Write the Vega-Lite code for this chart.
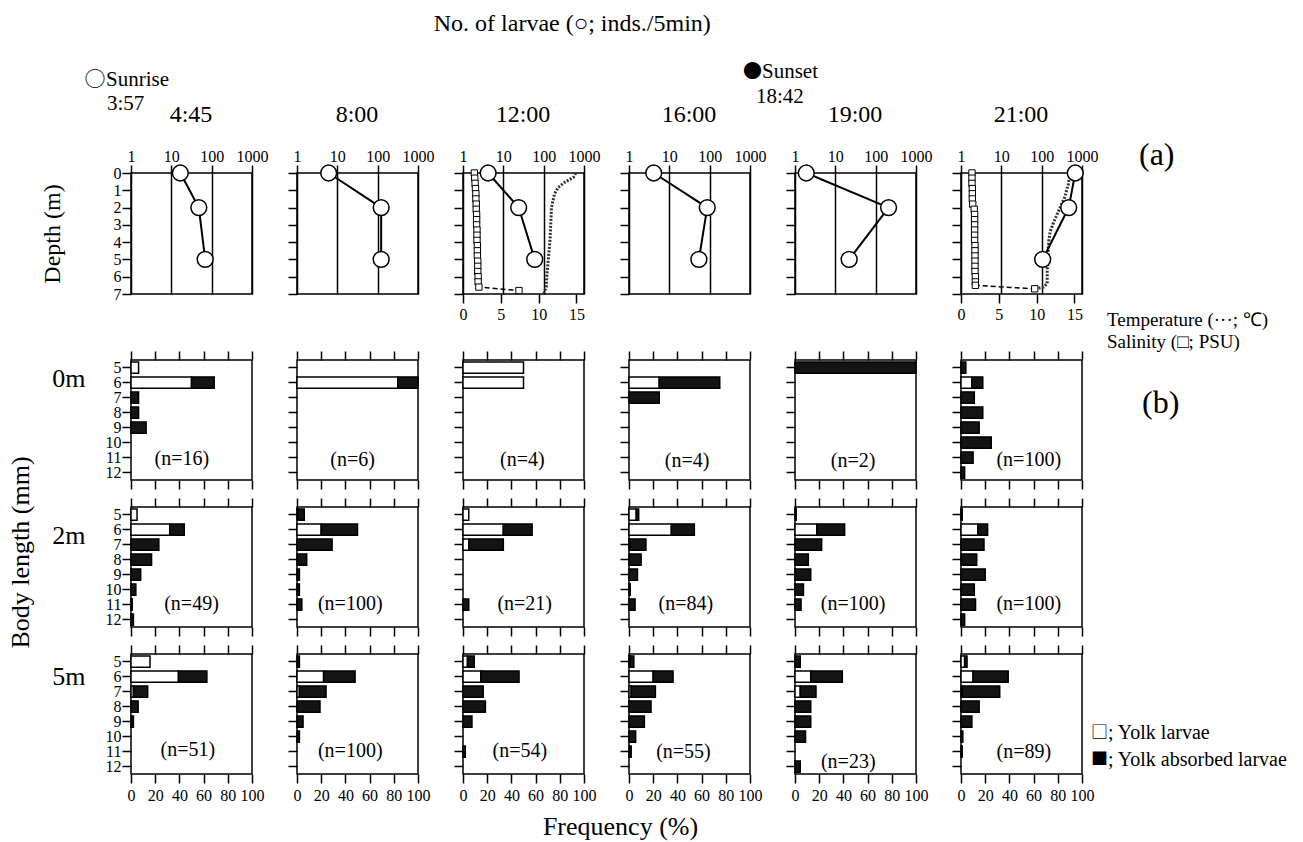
{
"$schema":"https://vega.github.io/schema/vega-lite/v6.json",
"padding":{"left":6,"top":12,"right":5,"bottom":5},
"datasets":{
"larvae":[
{"time":"4:45","depth":0,"n":16.7},{"time":"4:45","depth":2,"n":48},{"time":"4:45","depth":5,"n":69},
{"time":"8:00","depth":0,"n":6.1},{"time":"8:00","depth":2,"n":122},{"time":"8:00","depth":5,"n":122},
{"time":"12:00","depth":0,"n":4.2},{"time":"12:00","depth":2,"n":24},{"time":"12:00","depth":5,"n":60},
{"time":"16:00","depth":0,"n":4.1},{"time":"16:00","depth":2,"n":87},{"time":"16:00","depth":5,"n":54},
{"time":"19:00","depth":0,"n":1.9},{"time":"19:00","depth":2,"n":209},{"time":"19:00","depth":5,"n":22},
{"time":"21:00","depth":0,"n":680},{"time":"21:00","depth":2,"n":468},{"time":"21:00","depth":5,"n":106}
],
"temp":[
{"time":"12:00","depth":0,"t":14.9},{"time":"12:00","depth":0.25,"t":14.6},{"time":"12:00","depth":0.55,"t":13.4},{"time":"12:00","depth":0.83,"t":12.6},{"time":"12:00","depth":1.2,"t":12.1},{"time":"12:00","depth":1.6,"t":11.9},{"time":"12:00","depth":2,"t":11.7},{"time":"12:00","depth":3,"t":11.6},{"time":"12:00","depth":3.9,"t":11.5},{"time":"12:00","depth":4.9,"t":11.3},{"time":"12:00","depth":5.9,"t":11.1},{"time":"12:00","depth":6.6,"t":11.0},{"time":"12:00","depth":6.95,"t":10.7},
{"time":"21:00","depth":0,"t":14.4},{"time":"21:00","depth":0.64,"t":14.2},{"time":"21:00","depth":1.42,"t":13.7},{"time":"21:00","depth":2.2,"t":12.9},{"time":"21:00","depth":2.8,"t":12.3},{"time":"21:00","depth":3.37,"t":11.8},{"time":"21:00","depth":3.95,"t":11.6},{"time":"21:00","depth":4.7,"t":11.5},{"time":"21:00","depth":5.7,"t":11.4},{"time":"21:00","depth":6.4,"t":11.4},{"time":"21:00","depth":6.6,"t":10.9},{"time":"21:00","depth":6.7,"t":9.8}
],
"sal":[
{"time":"12:00","depth":0,"s":1.5},{"time":"12:00","depth":0.3,"s":1.55},{"time":"12:00","depth":0.6,"s":1.6},{"time":"12:00","depth":0.9,"s":1.65},{"time":"12:00","depth":1.2,"s":1.7},{"time":"12:00","depth":1.5,"s":1.7},{"time":"12:00","depth":1.8,"s":1.75},{"time":"12:00","depth":2.1,"s":1.75},{"time":"12:00","depth":2.4,"s":1.8},{"time":"12:00","depth":2.7,"s":1.8},{"time":"12:00","depth":3.0,"s":1.8},{"time":"12:00","depth":3.3,"s":1.85},{"time":"12:00","depth":3.6,"s":1.85},{"time":"12:00","depth":3.9,"s":1.85},{"time":"12:00","depth":4.2,"s":1.9},{"time":"12:00","depth":4.5,"s":1.9},{"time":"12:00","depth":4.8,"s":1.9},{"time":"12:00","depth":5.1,"s":1.95},{"time":"12:00","depth":5.4,"s":1.95},{"time":"12:00","depth":5.7,"s":1.95},{"time":"12:00","depth":6.0,"s":2.0},{"time":"12:00","depth":6.3,"s":2.0},{"time":"12:00","depth":6.6,"s":2.1},{"time":"12:00","depth":6.8,"s":7.4},
{"time":"21:00","depth":0,"s":1.45},{"time":"21:00","depth":0.3,"s":1.45},{"time":"21:00","depth":0.6,"s":1.45},{"time":"21:00","depth":0.9,"s":1.5},{"time":"21:00","depth":1.2,"s":1.5},{"time":"21:00","depth":1.5,"s":1.5},{"time":"21:00","depth":1.8,"s":1.55},{"time":"21:00","depth":2.1,"s":1.75},{"time":"21:00","depth":2.4,"s":1.8},{"time":"21:00","depth":2.7,"s":1.8},{"time":"21:00","depth":3.0,"s":1.8},{"time":"21:00","depth":3.3,"s":1.8},{"time":"21:00","depth":3.6,"s":1.8},{"time":"21:00","depth":3.9,"s":1.8},{"time":"21:00","depth":4.2,"s":1.85},{"time":"21:00","depth":4.5,"s":1.85},{"time":"21:00","depth":4.8,"s":1.85},{"time":"21:00","depth":5.1,"s":1.85},{"time":"21:00","depth":5.4,"s":1.85},{"time":"21:00","depth":5.7,"s":1.85},{"time":"21:00","depth":6.0,"s":1.9},{"time":"21:00","depth":6.3,"s":1.9},{"time":"21:00","depth":6.5,"s":1.9},{"time":"21:00","depth":6.7,"s":9.75}
],
"ns":[
{"time":"4:45","depth":"0m","label":"(n=16)"},{"time":"8:00","depth":"0m","label":"(n=6)"},{"time":"12:00","depth":"0m","label":"(n=4)"},{"time":"16:00","depth":"0m","label":"(n=4)"},{"time":"19:00","depth":"0m","label":"(n=2)"},{"time":"21:00","depth":"0m","label":"(n=100)"},
{"time":"4:45","depth":"2m","label":"(n=49)"},{"time":"8:00","depth":"2m","label":"(n=100)"},{"time":"12:00","depth":"2m","label":"(n=21)"},{"time":"16:00","depth":"2m","label":"(n=84)"},{"time":"19:00","depth":"2m","label":"(n=100)"},{"time":"21:00","depth":"2m","label":"(n=100)"},
{"time":"4:45","depth":"5m","label":"(n=51)"},{"time":"8:00","depth":"5m","label":"(n=100)"},{"time":"12:00","depth":"5m","label":"(n=54)"},{"time":"16:00","depth":"5m","label":"(n=55)"},{"time":"19:00","depth":"5m","label":"(n=23)"},{"time":"21:00","depth":"5m","label":"(n=89)"}
],
"freq":[
{"time":"4:45","depth":"0m","len":5,"type":"Yolk","pct":6.25},{"time":"4:45","depth":"0m","len":6,"type":"Yolk","pct":50},{"time":"4:45","depth":"0m","len":6,"type":"Absorbed","pct":18.75},{"time":"4:45","depth":"0m","len":7,"type":"Absorbed","pct":6.25},{"time":"4:45","depth":"0m","len":8,"type":"Absorbed","pct":6.25},{"time":"4:45","depth":"0m","len":9,"type":"Absorbed","pct":12.5},
{"time":"8:00","depth":"0m","len":6,"type":"Yolk","pct":83.3},{"time":"8:00","depth":"0m","len":6,"type":"Absorbed","pct":16.7},
{"time":"12:00","depth":"0m","len":5,"type":"Yolk","pct":50},{"time":"12:00","depth":"0m","len":6,"type":"Yolk","pct":50},
{"time":"16:00","depth":"0m","len":6,"type":"Yolk","pct":25},{"time":"16:00","depth":"0m","len":6,"type":"Absorbed","pct":50},{"time":"16:00","depth":"0m","len":7,"type":"Absorbed","pct":25},
{"time":"19:00","depth":"0m","len":5,"type":"Absorbed","pct":100},
{"time":"21:00","depth":"0m","len":5,"type":"Absorbed","pct":4},{"time":"21:00","depth":"0m","len":6,"type":"Yolk","pct":9},{"time":"21:00","depth":"0m","len":6,"type":"Absorbed","pct":9},{"time":"21:00","depth":"0m","len":7,"type":"Absorbed","pct":11},{"time":"21:00","depth":"0m","len":8,"type":"Absorbed","pct":18},{"time":"21:00","depth":"0m","len":9,"type":"Absorbed","pct":15},{"time":"21:00","depth":"0m","len":10,"type":"Absorbed","pct":25},{"time":"21:00","depth":"0m","len":11,"type":"Absorbed","pct":10},{"time":"21:00","depth":"0m","len":12,"type":"Absorbed","pct":3},
{"time":"4:45","depth":"2m","len":5,"type":"Yolk","pct":5},{"time":"4:45","depth":"2m","len":6,"type":"Yolk","pct":32},{"time":"4:45","depth":"2m","len":6,"type":"Absorbed","pct":12},{"time":"4:45","depth":"2m","len":7,"type":"Absorbed","pct":23},{"time":"4:45","depth":"2m","len":8,"type":"Absorbed","pct":17},{"time":"4:45","depth":"2m","len":9,"type":"Absorbed","pct":8},{"time":"4:45","depth":"2m","len":10,"type":"Absorbed","pct":4},{"time":"4:45","depth":"2m","len":11,"type":"Absorbed","pct":1},{"time":"4:45","depth":"2m","len":12,"type":"Absorbed","pct":2},
{"time":"8:00","depth":"2m","len":5,"type":"Yolk","pct":1},{"time":"8:00","depth":"2m","len":5,"type":"Absorbed","pct":5},{"time":"8:00","depth":"2m","len":6,"type":"Yolk","pct":20},{"time":"8:00","depth":"2m","len":6,"type":"Absorbed","pct":30},{"time":"8:00","depth":"2m","len":7,"type":"Absorbed","pct":29},{"time":"8:00","depth":"2m","len":8,"type":"Absorbed","pct":8},{"time":"8:00","depth":"2m","len":9,"type":"Absorbed","pct":2},{"time":"8:00","depth":"2m","len":10,"type":"Absorbed","pct":2},{"time":"8:00","depth":"2m","len":11,"type":"Absorbed","pct":4},
{"time":"12:00","depth":"2m","len":5,"type":"Yolk","pct":4.76},{"time":"12:00","depth":"2m","len":6,"type":"Yolk","pct":33.33},{"time":"12:00","depth":"2m","len":6,"type":"Absorbed","pct":23.81},{"time":"12:00","depth":"2m","len":7,"type":"Yolk","pct":4.76},{"time":"12:00","depth":"2m","len":7,"type":"Absorbed","pct":28.57},{"time":"12:00","depth":"2m","len":11,"type":"Absorbed","pct":4.76},
{"time":"16:00","depth":"2m","len":5,"type":"Yolk","pct":6},{"time":"16:00","depth":"2m","len":5,"type":"Absorbed","pct":2},{"time":"16:00","depth":"2m","len":6,"type":"Yolk","pct":35},{"time":"16:00","depth":"2m","len":6,"type":"Absorbed","pct":19},{"time":"16:00","depth":"2m","len":7,"type":"Yolk","pct":1},{"time":"16:00","depth":"2m","len":7,"type":"Absorbed","pct":13},{"time":"16:00","depth":"2m","len":8,"type":"Absorbed","pct":10},{"time":"16:00","depth":"2m","len":9,"type":"Absorbed","pct":7},{"time":"16:00","depth":"2m","len":10,"type":"Absorbed","pct":1},{"time":"16:00","depth":"2m","len":11,"type":"Absorbed","pct":5},
{"time":"19:00","depth":"2m","len":5,"type":"Yolk","pct":1},{"time":"19:00","depth":"2m","len":6,"type":"Yolk","pct":18},{"time":"19:00","depth":"2m","len":6,"type":"Absorbed","pct":23},{"time":"19:00","depth":"2m","len":7,"type":"Absorbed","pct":22},{"time":"19:00","depth":"2m","len":8,"type":"Absorbed","pct":11},{"time":"19:00","depth":"2m","len":9,"type":"Absorbed","pct":13},{"time":"19:00","depth":"2m","len":10,"type":"Absorbed","pct":7},{"time":"19:00","depth":"2m","len":11,"type":"Absorbed","pct":5},
{"time":"21:00","depth":"2m","len":5,"type":"Absorbed","pct":1},{"time":"21:00","depth":"2m","len":6,"type":"Yolk","pct":14},{"time":"21:00","depth":"2m","len":6,"type":"Absorbed","pct":8},{"time":"21:00","depth":"2m","len":7,"type":"Absorbed","pct":19},{"time":"21:00","depth":"2m","len":8,"type":"Absorbed","pct":13},{"time":"21:00","depth":"2m","len":9,"type":"Absorbed","pct":20},{"time":"21:00","depth":"2m","len":10,"type":"Absorbed","pct":11},{"time":"21:00","depth":"2m","len":11,"type":"Absorbed","pct":12},{"time":"21:00","depth":"2m","len":12,"type":"Absorbed","pct":3},
{"time":"4:45","depth":"5m","len":5,"type":"Yolk","pct":15.7},{"time":"4:45","depth":"5m","len":6,"type":"Yolk","pct":39.2},{"time":"4:45","depth":"5m","len":6,"type":"Absorbed","pct":23.5},{"time":"4:45","depth":"5m","len":7,"type":"Yolk","pct":2},{"time":"4:45","depth":"5m","len":7,"type":"Absorbed","pct":11.8},{"time":"4:45","depth":"5m","len":8,"type":"Absorbed","pct":5.9},{"time":"4:45","depth":"5m","len":9,"type":"Absorbed","pct":2},
{"time":"8:00","depth":"5m","len":5,"type":"Absorbed","pct":2},{"time":"8:00","depth":"5m","len":6,"type":"Yolk","pct":22},{"time":"8:00","depth":"5m","len":6,"type":"Absorbed","pct":26},{"time":"8:00","depth":"5m","len":7,"type":"Yolk","pct":2},{"time":"8:00","depth":"5m","len":7,"type":"Absorbed","pct":22},{"time":"8:00","depth":"5m","len":8,"type":"Absorbed","pct":19},{"time":"8:00","depth":"5m","len":9,"type":"Absorbed","pct":5},{"time":"8:00","depth":"5m","len":10,"type":"Absorbed","pct":2},
{"time":"12:00","depth":"5m","len":5,"type":"Yolk","pct":3.7},{"time":"12:00","depth":"5m","len":5,"type":"Absorbed","pct":5.6},{"time":"12:00","depth":"5m","len":6,"type":"Yolk","pct":14.8},{"time":"12:00","depth":"5m","len":6,"type":"Absorbed","pct":31.5},{"time":"12:00","depth":"5m","len":7,"type":"Absorbed","pct":16.7},{"time":"12:00","depth":"5m","len":8,"type":"Absorbed","pct":18.5},{"time":"12:00","depth":"5m","len":9,"type":"Absorbed","pct":7.4},{"time":"12:00","depth":"5m","len":11,"type":"Absorbed","pct":1.9},
{"time":"16:00","depth":"5m","len":5,"type":"Yolk","pct":1},{"time":"16:00","depth":"5m","len":5,"type":"Absorbed","pct":3},{"time":"16:00","depth":"5m","len":6,"type":"Yolk","pct":20},{"time":"16:00","depth":"5m","len":6,"type":"Absorbed","pct":16.4},{"time":"16:00","depth":"5m","len":7,"type":"Yolk","pct":1.8},{"time":"16:00","depth":"5m","len":7,"type":"Absorbed","pct":20},{"time":"16:00","depth":"5m","len":8,"type":"Absorbed","pct":18.2},{"time":"16:00","depth":"5m","len":9,"type":"Absorbed","pct":12.7},{"time":"16:00","depth":"5m","len":10,"type":"Absorbed","pct":5.5},{"time":"16:00","depth":"5m","len":11,"type":"Absorbed","pct":1.8},
{"time":"19:00","depth":"5m","len":5,"type":"Absorbed","pct":4.35},{"time":"19:00","depth":"5m","len":6,"type":"Yolk","pct":13},{"time":"19:00","depth":"5m","len":6,"type":"Absorbed","pct":26.1},{"time":"19:00","depth":"5m","len":7,"type":"Yolk","pct":4.35},{"time":"19:00","depth":"5m","len":7,"type":"Absorbed","pct":13},{"time":"19:00","depth":"5m","len":8,"type":"Absorbed","pct":13},{"time":"19:00","depth":"5m","len":9,"type":"Absorbed","pct":13},{"time":"19:00","depth":"5m","len":10,"type":"Absorbed","pct":8.7},{"time":"19:00","depth":"5m","len":12,"type":"Absorbed","pct":4.35},
{"time":"21:00","depth":"5m","len":5,"type":"Yolk","pct":3},{"time":"21:00","depth":"5m","len":5,"type":"Absorbed","pct":2},{"time":"21:00","depth":"5m","len":6,"type":"Yolk","pct":10},{"time":"21:00","depth":"5m","len":6,"type":"Absorbed","pct":29},{"time":"21:00","depth":"5m","len":7,"type":"Yolk","pct":1},{"time":"21:00","depth":"5m","len":7,"type":"Absorbed","pct":31},{"time":"21:00","depth":"5m","len":8,"type":"Absorbed","pct":15},{"time":"21:00","depth":"5m","len":9,"type":"Absorbed","pct":9},{"time":"21:00","depth":"5m","len":10,"type":"Absorbed","pct":1.5},{"time":"21:00","depth":"5m","len":11,"type":"Absorbed","pct":1}
]
},
"title":{"text":"No. of larvae (○; inds./5min)","fontSize":24,"anchor":"middle","frame":"bounds","dx":-75,"offset":24},
"spacing":-4,
"vconcat":[
{"bounds":"flush","spacing":45,"hconcat":[
 {"width":121,"height":121,"resolve":{"axis":{"x":"independent","y":"independent"}},"layer":[
  {"data":{"name":"larvae"},"transform":[{"filter":"datum.time=='4:45'"}],"mark":{"type":"line","color":"black","strokeWidth":2},"encoding":{"x":{"field":"n","type":"quantitative","scale":{"type":"log","domain":[1,1000]},"axis":{"orient":"top","title":null,"values":[1,10,100,1000],"format":"d","labels":true,"grid":true,"gridColor":"black","gridOpacity":1,"gridWidth":1.5,"tickSize":8}},"y":{"field":"depth","type":"quantitative","scale":{"domain":[0,7],"reverse":true},"axis":{"title":"Depth (m)","titleFontSize":24,"titlePadding":49,"values":[0,1,2,3,4,5,6,7],"labels":true}},"order":{"field":"depth"}}},
  {"data":{"name":"larvae"},"transform":[{"filter":"datum.time=='4:45'"}],"mark":{"type":"point","shape":"circle","size":250,"filled":true,"fill":"white","stroke":"black","strokeWidth":1.5,"opacity":1},"encoding":{"x":{"field":"n","type":"quantitative","axis":null},"y":{"field":"depth","type":"quantitative","axis":null}}},
  {"data":{"values":[{}]},"mark":{"type":"text","fontSize":24,"align":"center","baseline":"middle"},"encoding":{"x":{"datum":30.7,"type":"quantitative","axis":null},"y":{"datum":-3.355,"type":"quantitative","axis":null},"text":{"value":"4:45"}}},
  {"data":{"values":[{}]},"mark":{"type":"text","font":"Noto Sans CJK JP","fontSize":21,"align":"center","baseline":"middle"},"encoding":{"x":{"datum":0.128,"type":"quantitative","axis":null},"y":{"datum":-5.38,"type":"quantitative","axis":null},"text":{"value":"○"}}},
  {"data":{"values":[{}]},"mark":{"type":"text","fontSize":21,"align":"left","baseline":"middle"},"encoding":{"x":{"datum":0.24,"type":"quantitative","axis":null},"y":{"datum":-5.38,"type":"quantitative","axis":null},"text":{"value":"Sunrise"}}},
  {"data":{"values":[{}]},"mark":{"type":"text","fontSize":21,"align":"left","baseline":"middle"},"encoding":{"x":{"datum":0.254,"type":"quantitative","axis":null},"y":{"datum":-3.99,"type":"quantitative","axis":null},"text":{"value":"3:57"}}}
 ]},
 {"width":121,"height":121,"resolve":{"axis":{"x":"independent","y":"independent"}},"layer":[
  {"data":{"name":"larvae"},"transform":[{"filter":"datum.time=='8:00'"}],"mark":{"type":"line","color":"black","strokeWidth":2},"encoding":{"x":{"field":"n","type":"quantitative","scale":{"type":"log","domain":[1,1000]},"axis":{"orient":"top","title":null,"values":[1,10,100,1000],"format":"d","labels":true,"grid":true,"gridColor":"black","gridOpacity":1,"gridWidth":1.5,"tickSize":8}},"y":{"field":"depth","type":"quantitative","scale":{"domain":[0,7],"reverse":true},"axis":{"title":null,"values":[0,1,2,3,4,5,6,7]}},"order":{"field":"depth"}}},
  {"data":{"name":"larvae"},"transform":[{"filter":"datum.time=='8:00'"}],"mark":{"type":"point","shape":"circle","size":250,"filled":true,"fill":"white","stroke":"black","strokeWidth":1.5,"opacity":1},"encoding":{"x":{"field":"n","type":"quantitative","axis":null},"y":{"field":"depth","type":"quantitative","axis":null}}},
  {"data":{"values":[{}]},"mark":{"type":"text","fontSize":24,"align":"center","baseline":"middle"},"encoding":{"x":{"datum":30.7,"type":"quantitative","axis":null},"y":{"datum":-3.355,"type":"quantitative","axis":null},"text":{"value":"8:00"}}}
 ]},
 {"width":121,"height":121,"resolve":{"scale":{"x":"independent"},"axis":{"x":"independent","y":"independent"}},"layer":[
  {"resolve":{"axis":{"x":"independent","y":"independent"}},"layer":[
   {"data":{"name":"temp"},"transform":[{"filter":"datum.time=='12:00'"}],"mark":{"type":"line","color":"#333333","strokeWidth":3,"strokeDash":[2,1.5]},"encoding":{"x":{"field":"t","type":"quantitative","scale":{"domain":[0,15]},"axis":{"orient":"bottom","title":null,"values":[0,5,10,15],"labels":true,"labelPadding":3}},"y":{"field":"depth","type":"quantitative","scale":{"domain":[0,7],"reverse":true},"axis":null},"order":{"field":"depth"}}},
   {"data":{"name":"sal"},"transform":[{"filter":"datum.time=='12:00'"}],"mark":{"type":"line","color":"black","strokeWidth":1.5,"strokeDash":[5,3]},"encoding":{"x":{"field":"s","type":"quantitative","axis":null},"y":{"field":"depth","type":"quantitative","axis":null},"order":{"field":"depth"}}},
   {"data":{"name":"sal"},"transform":[{"filter":"datum.time=='12:00'"}],"mark":{"type":"point","shape":"square","size":40,"filled":true,"fill":"white","stroke":"black","strokeWidth":1,"opacity":1},"encoding":{"x":{"field":"s","type":"quantitative","axis":null},"y":{"field":"depth","type":"quantitative","axis":null}}}
  ]},
  {"resolve":{"axis":{"x":"independent","y":"independent"}},"layer":[
   {"data":{"name":"larvae"},"transform":[{"filter":"datum.time=='12:00'"}],"mark":{"type":"line","color":"black","strokeWidth":2},"encoding":{"x":{"field":"n","type":"quantitative","scale":{"type":"log","domain":[1,1000]},"axis":{"orient":"top","title":null,"values":[1,10,100,1000],"format":"d","labels":true,"grid":true,"gridColor":"black","gridOpacity":1,"gridWidth":1.5,"tickSize":8}},"y":{"field":"depth","type":"quantitative","scale":{"domain":[0,7],"reverse":true},"axis":{"title":null,"values":[0,1,2,3,4,5,6,7]}},"order":{"field":"depth"}}},
   {"data":{"name":"larvae"},"transform":[{"filter":"datum.time=='12:00'"}],"mark":{"type":"point","shape":"circle","size":250,"filled":true,"fill":"white","stroke":"black","strokeWidth":1.5,"opacity":1},"encoding":{"x":{"field":"n","type":"quantitative","axis":null},"y":{"field":"depth","type":"quantitative","axis":null}}},
   {"data":{"values":[{}]},"mark":{"type":"text","fontSize":24,"align":"center","baseline":"middle"},"encoding":{"x":{"datum":30.7,"type":"quantitative","axis":null},"y":{"datum":-3.355,"type":"quantitative","axis":null},"text":{"value":"12:00"}}}
  ]}
 ]},
 {"width":121,"height":121,"resolve":{"axis":{"x":"independent","y":"independent"}},"layer":[
  {"data":{"name":"larvae"},"transform":[{"filter":"datum.time=='16:00'"}],"mark":{"type":"line","color":"black","strokeWidth":2},"encoding":{"x":{"field":"n","type":"quantitative","scale":{"type":"log","domain":[1,1000]},"axis":{"orient":"top","title":null,"values":[1,10,100,1000],"format":"d","labels":true,"grid":true,"gridColor":"black","gridOpacity":1,"gridWidth":1.5,"tickSize":8}},"y":{"field":"depth","type":"quantitative","scale":{"domain":[0,7],"reverse":true},"axis":{"title":null,"values":[0,1,2,3,4,5,6,7]}},"order":{"field":"depth"}}},
  {"data":{"name":"larvae"},"transform":[{"filter":"datum.time=='16:00'"}],"mark":{"type":"point","shape":"circle","size":250,"filled":true,"fill":"white","stroke":"black","strokeWidth":1.5,"opacity":1},"encoding":{"x":{"field":"n","type":"quantitative","axis":null},"y":{"field":"depth","type":"quantitative","axis":null}}},
  {"data":{"values":[{}]},"mark":{"type":"text","fontSize":24,"align":"center","baseline":"middle"},"encoding":{"x":{"datum":30.7,"type":"quantitative","axis":null},"y":{"datum":-3.355,"type":"quantitative","axis":null},"text":{"value":"16:00"}}}
 ]},
 {"width":121,"height":121,"resolve":{"axis":{"x":"independent","y":"independent"}},"layer":[
  {"data":{"name":"larvae"},"transform":[{"filter":"datum.time=='19:00'"}],"mark":{"type":"line","color":"black","strokeWidth":2},"encoding":{"x":{"field":"n","type":"quantitative","scale":{"type":"log","domain":[1,1000]},"axis":{"orient":"top","title":null,"values":[1,10,100,1000],"format":"d","labels":true,"grid":true,"gridColor":"black","gridOpacity":1,"gridWidth":1.5,"tickSize":8}},"y":{"field":"depth","type":"quantitative","scale":{"domain":[0,7],"reverse":true},"axis":{"title":null,"values":[0,1,2,3,4,5,6,7]}},"order":{"field":"depth"}}},
  {"data":{"name":"larvae"},"transform":[{"filter":"datum.time=='19:00'"}],"mark":{"type":"point","shape":"circle","size":250,"filled":true,"fill":"white","stroke":"black","strokeWidth":1.5,"opacity":1},"encoding":{"x":{"field":"n","type":"quantitative","axis":null},"y":{"field":"depth","type":"quantitative","axis":null}}},
  {"data":{"values":[{}]},"mark":{"type":"text","fontSize":24,"align":"center","baseline":"middle"},"encoding":{"x":{"datum":30.7,"type":"quantitative","axis":null},"y":{"datum":-3.355,"type":"quantitative","axis":null},"text":{"value":"19:00"}}},
  {"data":{"values":[{}]},"mark":{"type":"text","font":"Noto Sans CJK JP","fontSize":19,"align":"center","baseline":"middle"},"encoding":{"x":{"datum":0.0883,"type":"quantitative","axis":null},"y":{"datum":-5.84,"type":"quantitative","axis":null},"text":{"value":"●"}}},
  {"data":{"values":[{}]},"mark":{"type":"text","fontSize":21,"align":"left","baseline":"middle"},"encoding":{"x":{"datum":0.152,"type":"quantitative","axis":null},"y":{"datum":-5.84,"type":"quantitative","axis":null},"text":{"value":"Sunset"}}},
  {"data":{"values":[{}]},"mark":{"type":"text","fontSize":21,"align":"left","baseline":"middle"},"encoding":{"x":{"datum":0.108,"type":"quantitative","axis":null},"y":{"datum":-4.4,"type":"quantitative","axis":null},"text":{"value":"18:42"}}}
 ]},
 {"width":121,"height":121,"resolve":{"scale":{"x":"independent"},"axis":{"x":"independent","y":"independent"}},"layer":[
  {"resolve":{"axis":{"x":"independent","y":"independent"}},"layer":[
   {"data":{"name":"temp"},"transform":[{"filter":"datum.time=='21:00'"}],"mark":{"type":"line","color":"#333333","strokeWidth":3,"strokeDash":[2,1.5]},"encoding":{"x":{"field":"t","type":"quantitative","scale":{"domain":[0,15]},"axis":{"orient":"bottom","title":null,"values":[0,5,10,15],"labels":true,"labelPadding":3}},"y":{"field":"depth","type":"quantitative","scale":{"domain":[0,7],"reverse":true},"axis":null},"order":{"field":"depth"}}},
   {"data":{"name":"sal"},"transform":[{"filter":"datum.time=='21:00'"}],"mark":{"type":"line","color":"black","strokeWidth":1.5,"strokeDash":[5,3]},"encoding":{"x":{"field":"s","type":"quantitative","axis":null},"y":{"field":"depth","type":"quantitative","axis":null},"order":{"field":"depth"}}},
   {"data":{"name":"sal"},"transform":[{"filter":"datum.time=='21:00'"}],"mark":{"type":"point","shape":"square","size":40,"filled":true,"fill":"white","stroke":"black","strokeWidth":1,"opacity":1},"encoding":{"x":{"field":"s","type":"quantitative","axis":null},"y":{"field":"depth","type":"quantitative","axis":null}}},
   {"data":{"values":[{}]},"mark":{"type":"text","fontSize":19,"align":"left","baseline":"middle"},"encoding":{"x":{"datum":19.3,"type":"quantitative","axis":null},"y":{"datum":8.5,"type":"quantitative","axis":null},"text":{"value":"Temperature (···; ℃)"}}},
   {"data":{"values":[{}]},"mark":{"type":"text","fontSize":19,"align":"left","baseline":"middle"},"encoding":{"x":{"datum":19.3,"type":"quantitative","axis":null},"y":{"datum":9.77,"type":"quantitative","axis":null},"text":{"value":"Salinity (□; PSU)"}}}
  ]},
  {"resolve":{"axis":{"x":"independent","y":"independent"}},"layer":[
   {"data":{"name":"larvae"},"transform":[{"filter":"datum.time=='21:00'"}],"mark":{"type":"line","color":"black","strokeWidth":2},"encoding":{"x":{"field":"n","type":"quantitative","scale":{"type":"log","domain":[1,1000]},"axis":{"orient":"top","title":null,"values":[1,10,100,1000],"format":"d","labels":true,"grid":true,"gridColor":"black","gridOpacity":1,"gridWidth":1.5,"tickSize":8}},"y":{"field":"depth","type":"quantitative","scale":{"domain":[0,7],"reverse":true},"axis":{"title":null,"values":[0,1,2,3,4,5,6,7]}},"order":{"field":"depth"}}},
   {"data":{"name":"larvae"},"transform":[{"filter":"datum.time=='21:00'"}],"mark":{"type":"point","shape":"circle","size":250,"filled":true,"fill":"white","stroke":"black","strokeWidth":1.5,"opacity":1},"encoding":{"x":{"field":"n","type":"quantitative","axis":null},"y":{"field":"depth","type":"quantitative","axis":null}}},
   {"data":{"values":[{}]},"mark":{"type":"text","fontSize":24,"align":"center","baseline":"middle"},"encoding":{"x":{"datum":30.7,"type":"quantitative","axis":null},"y":{"datum":-3.355,"type":"quantitative","axis":null},"text":{"value":"21:00"}}},
   {"data":{"values":[{}]},"mark":{"type":"text","fontSize":32,"align":"left","baseline":"middle"},"encoding":{"x":{"datum":25900,"type":"quantitative","axis":null},"y":{"datum":-1.04,"type":"quantitative","axis":null},"text":{"value":"(a)"}}}
  ]}
 ]}
]},
{"bounds":"flush","columns":6,"spacing":{"row":27,"column":45},"concat":[
   {"width":121,"height":120,"resolve":{"axis":{"x":"independent","y":"independent"}},"layer":[
    {"data":{"name":"freq"},"transform":[{"filter":"datum.time=='4:45'&&datum.depth=='0m'"}],"mark":{"type":"bar","stroke":"black","strokeWidth":1.5},"encoding":{"y":{"field":"len","type":"ordinal","scale":{"domain":[5,6,7,8,9,10,11,12],"paddingInner":0.25,"paddingOuter":0.125},"axis":{"title":null,"labels":true}},"x":{"field":"pct","type":"quantitative","stack":"zero","scale":{"domain":[0,100]},"axis":{"orient":"bottom","title":null,"values":[0,20,40,60,80,100]}},"fill":{"field":"type","type":"nominal","scale":{"domain":["Yolk","Absorbed"],"range":["#ffffff","#141414"]},"legend":null},"order":{"field":"type","sort":"descending"}}},
    {"data":{"name":"ns"},"transform":[{"filter":"datum.time=='4:45'&&datum.depth=='0m'"}],"mark":{"type":"text","fontSize":20,"dy":1},"encoding":{"x":{"datum":42,"type":"quantitative","axis":{"orient":"top","title":null,"values":[0,20,40,60,80,100]}},"y":{"datum":11,"type":"ordinal","axis":null},"text":{"field":"label"}}},
    {"data":{"values":[{}]},"mark":{"type":"text","fontSize":26,"align":"left","baseline":"middle","dy":-4},"encoding":{"x":{"datum":-65,"type":"quantitative","axis":null},"y":{"datum":6,"type":"ordinal","axis":null},"text":{"value":"0m"}}}
   ]},
   {"width":121,"height":120,"resolve":{"axis":{"x":"independent","y":"independent"}},"layer":[
    {"data":{"name":"freq"},"transform":[{"filter":"datum.time=='8:00'&&datum.depth=='0m'"}],"mark":{"type":"bar","stroke":"black","strokeWidth":1.5},"encoding":{"y":{"field":"len","type":"ordinal","scale":{"domain":[5,6,7,8,9,10,11,12],"paddingInner":0.25,"paddingOuter":0.125},"axis":{"title":null}},"x":{"field":"pct","type":"quantitative","stack":"zero","scale":{"domain":[0,100]},"axis":{"orient":"bottom","title":null,"values":[0,20,40,60,80,100]}},"fill":{"field":"type","type":"nominal","scale":{"domain":["Yolk","Absorbed"],"range":["#ffffff","#141414"]},"legend":null},"order":{"field":"type","sort":"descending"}}},
    {"data":{"name":"ns"},"transform":[{"filter":"datum.time=='8:00'&&datum.depth=='0m'"}],"mark":{"type":"text","fontSize":20,"dy":2},"encoding":{"x":{"datum":46,"type":"quantitative","axis":{"orient":"top","title":null,"values":[0,20,40,60,80,100]}},"y":{"datum":11,"type":"ordinal","axis":null},"text":{"field":"label"}}}
   ]},
   {"width":121,"height":120,"resolve":{"axis":{"x":"independent","y":"independent"}},"layer":[
    {"data":{"name":"freq"},"transform":[{"filter":"datum.time=='12:00'&&datum.depth=='0m'"}],"mark":{"type":"bar","stroke":"black","strokeWidth":1.5},"encoding":{"y":{"field":"len","type":"ordinal","scale":{"domain":[5,6,7,8,9,10,11,12],"paddingInner":0.25,"paddingOuter":0.125},"axis":{"title":null}},"x":{"field":"pct","type":"quantitative","stack":"zero","scale":{"domain":[0,100]},"axis":{"orient":"bottom","title":null,"values":[0,20,40,60,80,100]}},"fill":{"field":"type","type":"nominal","scale":{"domain":["Yolk","Absorbed"],"range":["#ffffff","#141414"]},"legend":null},"order":{"field":"type","sort":"descending"}}},
    {"data":{"name":"ns"},"transform":[{"filter":"datum.time=='12:00'&&datum.depth=='0m'"}],"mark":{"type":"text","fontSize":20,"dy":2},"encoding":{"x":{"datum":49,"type":"quantitative","axis":{"orient":"top","title":null,"values":[0,20,40,60,80,100]}},"y":{"datum":11,"type":"ordinal","axis":null},"text":{"field":"label"}}}
   ]},
   {"width":121,"height":120,"resolve":{"axis":{"x":"independent","y":"independent"}},"layer":[
    {"data":{"name":"freq"},"transform":[{"filter":"datum.time=='16:00'&&datum.depth=='0m'"}],"mark":{"type":"bar","stroke":"black","strokeWidth":1.5},"encoding":{"y":{"field":"len","type":"ordinal","scale":{"domain":[5,6,7,8,9,10,11,12],"paddingInner":0.25,"paddingOuter":0.125},"axis":{"title":null}},"x":{"field":"pct","type":"quantitative","stack":"zero","scale":{"domain":[0,100]},"axis":{"orient":"bottom","title":null,"values":[0,20,40,60,80,100]}},"fill":{"field":"type","type":"nominal","scale":{"domain":["Yolk","Absorbed"],"range":["#ffffff","#141414"]},"legend":null},"order":{"field":"type","sort":"descending"}}},
    {"data":{"name":"ns"},"transform":[{"filter":"datum.time=='16:00'&&datum.depth=='0m'"}],"mark":{"type":"text","fontSize":20,"dy":3},"encoding":{"x":{"datum":48,"type":"quantitative","axis":{"orient":"top","title":null,"values":[0,20,40,60,80,100]}},"y":{"datum":11,"type":"ordinal","axis":null},"text":{"field":"label"}}}
   ]},
   {"width":121,"height":120,"resolve":{"axis":{"x":"independent","y":"independent"}},"layer":[
    {"data":{"name":"freq"},"transform":[{"filter":"datum.time=='19:00'&&datum.depth=='0m'"}],"mark":{"type":"bar","stroke":"black","strokeWidth":1.5},"encoding":{"y":{"field":"len","type":"ordinal","scale":{"domain":[5,6,7,8,9,10,11,12],"paddingInner":0.25,"paddingOuter":0.125},"axis":{"title":null}},"x":{"field":"pct","type":"quantitative","stack":"zero","scale":{"domain":[0,100]},"axis":{"orient":"bottom","title":null,"values":[0,20,40,60,80,100]}},"fill":{"field":"type","type":"nominal","scale":{"domain":["Yolk","Absorbed"],"range":["#ffffff","#141414"]},"legend":null},"order":{"field":"type","sort":"descending"}}},
    {"data":{"name":"ns"},"transform":[{"filter":"datum.time=='19:00'&&datum.depth=='0m'"}],"mark":{"type":"text","fontSize":20,"dy":3},"encoding":{"x":{"datum":48,"type":"quantitative","axis":{"orient":"top","title":null,"values":[0,20,40,60,80,100]}},"y":{"datum":11,"type":"ordinal","axis":null},"text":{"field":"label"}}}
   ]},
   {"width":121,"height":120,"resolve":{"axis":{"x":"independent","y":"independent"}},"layer":[
    {"data":{"name":"freq"},"transform":[{"filter":"datum.time=='21:00'&&datum.depth=='0m'"}],"mark":{"type":"bar","stroke":"black","strokeWidth":1.5},"encoding":{"y":{"field":"len","type":"ordinal","scale":{"domain":[5,6,7,8,9,10,11,12],"paddingInner":0.25,"paddingOuter":0.125},"axis":{"title":null}},"x":{"field":"pct","type":"quantitative","stack":"zero","scale":{"domain":[0,100]},"axis":{"orient":"bottom","title":null,"values":[0,20,40,60,80,100]}},"fill":{"field":"type","type":"nominal","scale":{"domain":["Yolk","Absorbed"],"range":["#ffffff","#141414"]},"legend":null},"order":{"field":"type","sort":"descending"}}},
    {"data":{"name":"ns"},"transform":[{"filter":"datum.time=='21:00'&&datum.depth=='0m'"}],"mark":{"type":"text","fontSize":20,"dy":2},"encoding":{"x":{"datum":56,"type":"quantitative","axis":{"orient":"top","title":null,"values":[0,20,40,60,80,100]}},"y":{"datum":11,"type":"ordinal","axis":null},"text":{"field":"label"}}},
    {"data":{"values":[{}]},"mark":{"type":"text","fontSize":32,"align":"left","baseline":"middle","dy":5},"encoding":{"x":{"datum":149.6,"type":"quantitative","axis":null},"y":{"datum":7,"type":"ordinal","axis":null},"text":{"value":"(b)"}}}
   ]},
   {"width":121,"height":120,"resolve":{"axis":{"x":"independent","y":"independent"}},"layer":[
    {"data":{"name":"freq"},"transform":[{"filter":"datum.time=='4:45'&&datum.depth=='2m'"}],"mark":{"type":"bar","stroke":"black","strokeWidth":1.5},"encoding":{"y":{"field":"len","type":"ordinal","scale":{"domain":[5,6,7,8,9,10,11,12],"paddingInner":0.25,"paddingOuter":0.125},"axis":{"title":"Body length (mm)","titleFontSize":26,"titlePadding":72,"titleY":45,"labels":true}},"x":{"field":"pct","type":"quantitative","stack":"zero","scale":{"domain":[0,100]},"axis":{"orient":"bottom","title":null,"values":[0,20,40,60,80,100]}},"fill":{"field":"type","type":"nominal","scale":{"domain":["Yolk","Absorbed"],"range":["#ffffff","#141414"]},"legend":null},"order":{"field":"type","sort":"descending"}}},
    {"data":{"name":"ns"},"transform":[{"filter":"datum.time=='4:45'&&datum.depth=='2m'"}],"mark":{"type":"text","fontSize":20,"dy":-1},"encoding":{"x":{"datum":50,"type":"quantitative","axis":{"orient":"top","title":null,"values":[0,20,40,60,80,100]}},"y":{"datum":11,"type":"ordinal","axis":null},"text":{"field":"label"}}},
    {"data":{"values":[{}]},"mark":{"type":"text","fontSize":26,"align":"left","baseline":"middle","dy":6},"encoding":{"x":{"datum":-65,"type":"quantitative","axis":null},"y":{"datum":6,"type":"ordinal","axis":null},"text":{"value":"2m"}}}
   ]},
   {"width":121,"height":120,"resolve":{"axis":{"x":"independent","y":"independent"}},"layer":[
    {"data":{"name":"freq"},"transform":[{"filter":"datum.time=='8:00'&&datum.depth=='2m'"}],"mark":{"type":"bar","stroke":"black","strokeWidth":1.5},"encoding":{"y":{"field":"len","type":"ordinal","scale":{"domain":[5,6,7,8,9,10,11,12],"paddingInner":0.25,"paddingOuter":0.125},"axis":{"title":null}},"x":{"field":"pct","type":"quantitative","stack":"zero","scale":{"domain":[0,100]},"axis":{"orient":"bottom","title":null,"values":[0,20,40,60,80,100]}},"fill":{"field":"type","type":"nominal","scale":{"domain":["Yolk","Absorbed"],"range":["#ffffff","#141414"]},"legend":null},"order":{"field":"type","sort":"descending"}}},
    {"data":{"name":"ns"},"transform":[{"filter":"datum.time=='8:00'&&datum.depth=='2m'"}],"mark":{"type":"text","fontSize":20,"dy":-1},"encoding":{"x":{"datum":44,"type":"quantitative","axis":{"orient":"top","title":null,"values":[0,20,40,60,80,100]}},"y":{"datum":11,"type":"ordinal","axis":null},"text":{"field":"label"}}}
   ]},
   {"width":121,"height":120,"resolve":{"axis":{"x":"independent","y":"independent"}},"layer":[
    {"data":{"name":"freq"},"transform":[{"filter":"datum.time=='12:00'&&datum.depth=='2m'"}],"mark":{"type":"bar","stroke":"black","strokeWidth":1.5},"encoding":{"y":{"field":"len","type":"ordinal","scale":{"domain":[5,6,7,8,9,10,11,12],"paddingInner":0.25,"paddingOuter":0.125},"axis":{"title":null}},"x":{"field":"pct","type":"quantitative","stack":"zero","scale":{"domain":[0,100]},"axis":{"orient":"bottom","title":null,"values":[0,20,40,60,80,100]}},"fill":{"field":"type","type":"nominal","scale":{"domain":["Yolk","Absorbed"],"range":["#ffffff","#141414"]},"legend":null},"order":{"field":"type","sort":"descending"}}},
    {"data":{"name":"ns"},"transform":[{"filter":"datum.time=='12:00'&&datum.depth=='2m'"}],"mark":{"type":"text","fontSize":20,"dy":-1},"encoding":{"x":{"datum":51,"type":"quantitative","axis":{"orient":"top","title":null,"values":[0,20,40,60,80,100]}},"y":{"datum":11,"type":"ordinal","axis":null},"text":{"field":"label"}}}
   ]},
   {"width":121,"height":120,"resolve":{"axis":{"x":"independent","y":"independent"}},"layer":[
    {"data":{"name":"freq"},"transform":[{"filter":"datum.time=='16:00'&&datum.depth=='2m'"}],"mark":{"type":"bar","stroke":"black","strokeWidth":1.5},"encoding":{"y":{"field":"len","type":"ordinal","scale":{"domain":[5,6,7,8,9,10,11,12],"paddingInner":0.25,"paddingOuter":0.125},"axis":{"title":null}},"x":{"field":"pct","type":"quantitative","stack":"zero","scale":{"domain":[0,100]},"axis":{"orient":"bottom","title":null,"values":[0,20,40,60,80,100]}},"fill":{"field":"type","type":"nominal","scale":{"domain":["Yolk","Absorbed"],"range":["#ffffff","#141414"]},"legend":null},"order":{"field":"type","sort":"descending"}}},
    {"data":{"name":"ns"},"transform":[{"filter":"datum.time=='16:00'&&datum.depth=='2m'"}],"mark":{"type":"text","fontSize":20,"dy":-1},"encoding":{"x":{"datum":47,"type":"quantitative","axis":{"orient":"top","title":null,"values":[0,20,40,60,80,100]}},"y":{"datum":11,"type":"ordinal","axis":null},"text":{"field":"label"}}}
   ]},
   {"width":121,"height":120,"resolve":{"axis":{"x":"independent","y":"independent"}},"layer":[
    {"data":{"name":"freq"},"transform":[{"filter":"datum.time=='19:00'&&datum.depth=='2m'"}],"mark":{"type":"bar","stroke":"black","strokeWidth":1.5},"encoding":{"y":{"field":"len","type":"ordinal","scale":{"domain":[5,6,7,8,9,10,11,12],"paddingInner":0.25,"paddingOuter":0.125},"axis":{"title":null}},"x":{"field":"pct","type":"quantitative","stack":"zero","scale":{"domain":[0,100]},"axis":{"orient":"bottom","title":null,"values":[0,20,40,60,80,100]}},"fill":{"field":"type","type":"nominal","scale":{"domain":["Yolk","Absorbed"],"range":["#ffffff","#141414"]},"legend":null},"order":{"field":"type","sort":"descending"}}},
    {"data":{"name":"ns"},"transform":[{"filter":"datum.time=='19:00'&&datum.depth=='2m'"}],"mark":{"type":"text","fontSize":20,"dy":-1},"encoding":{"x":{"datum":48,"type":"quantitative","axis":{"orient":"top","title":null,"values":[0,20,40,60,80,100]}},"y":{"datum":11,"type":"ordinal","axis":null},"text":{"field":"label"}}}
   ]},
   {"width":121,"height":120,"resolve":{"axis":{"x":"independent","y":"independent"}},"layer":[
    {"data":{"name":"freq"},"transform":[{"filter":"datum.time=='21:00'&&datum.depth=='2m'"}],"mark":{"type":"bar","stroke":"black","strokeWidth":1.5},"encoding":{"y":{"field":"len","type":"ordinal","scale":{"domain":[5,6,7,8,9,10,11,12],"paddingInner":0.25,"paddingOuter":0.125},"axis":{"title":null}},"x":{"field":"pct","type":"quantitative","stack":"zero","scale":{"domain":[0,100]},"axis":{"orient":"bottom","title":null,"values":[0,20,40,60,80,100]}},"fill":{"field":"type","type":"nominal","scale":{"domain":["Yolk","Absorbed"],"range":["#ffffff","#141414"]},"legend":null},"order":{"field":"type","sort":"descending"}}},
    {"data":{"name":"ns"},"transform":[{"filter":"datum.time=='21:00'&&datum.depth=='2m'"}],"mark":{"type":"text","fontSize":20,"dy":-1},"encoding":{"x":{"datum":56,"type":"quantitative","axis":{"orient":"top","title":null,"values":[0,20,40,60,80,100]}},"y":{"datum":11,"type":"ordinal","axis":null},"text":{"field":"label"}}}
   ]},
   {"width":121,"height":120,"resolve":{"axis":{"x":"independent","y":"independent"}},"layer":[
    {"data":{"name":"freq"},"transform":[{"filter":"datum.time=='4:45'&&datum.depth=='5m'"}],"mark":{"type":"bar","stroke":"black","strokeWidth":1.5},"encoding":{"y":{"field":"len","type":"ordinal","scale":{"domain":[5,6,7,8,9,10,11,12],"paddingInner":0.25,"paddingOuter":0.125},"axis":{"title":null,"labels":true}},"x":{"field":"pct","type":"quantitative","stack":"zero","scale":{"domain":[0,100]},"axis":{"orient":"bottom","title":null,"values":[0,20,40,60,80,100],"labels":true,"labelPadding":4}},"fill":{"field":"type","type":"nominal","scale":{"domain":["Yolk","Absorbed"],"range":["#ffffff","#141414"]},"legend":null},"order":{"field":"type","sort":"descending"}}},
    {"data":{"name":"ns"},"transform":[{"filter":"datum.time=='4:45'&&datum.depth=='5m'"}],"mark":{"type":"text","fontSize":20,"dy":-2},"encoding":{"x":{"datum":47,"type":"quantitative","axis":{"orient":"top","title":null,"values":[0,20,40,60,80,100]}},"y":{"datum":11,"type":"ordinal","axis":null},"text":{"field":"label"}}},
    {"data":{"values":[{}]},"mark":{"type":"text","fontSize":26,"align":"left","baseline":"middle","dy":0},"encoding":{"x":{"datum":-65,"type":"quantitative","axis":null},"y":{"datum":6,"type":"ordinal","axis":null},"text":{"value":"5m"}}}
   ]},
   {"width":121,"height":120,"resolve":{"axis":{"x":"independent","y":"independent"}},"layer":[
    {"data":{"name":"freq"},"transform":[{"filter":"datum.time=='8:00'&&datum.depth=='5m'"}],"mark":{"type":"bar","stroke":"black","strokeWidth":1.5},"encoding":{"y":{"field":"len","type":"ordinal","scale":{"domain":[5,6,7,8,9,10,11,12],"paddingInner":0.25,"paddingOuter":0.125},"axis":{"title":null}},"x":{"field":"pct","type":"quantitative","stack":"zero","scale":{"domain":[0,100]},"axis":{"orient":"bottom","title":null,"values":[0,20,40,60,80,100],"labels":true,"labelPadding":4}},"fill":{"field":"type","type":"nominal","scale":{"domain":["Yolk","Absorbed"],"range":["#ffffff","#141414"]},"legend":null},"order":{"field":"type","sort":"descending"}}},
    {"data":{"name":"ns"},"transform":[{"filter":"datum.time=='8:00'&&datum.depth=='5m'"}],"mark":{"type":"text","fontSize":20,"dy":-1},"encoding":{"x":{"datum":44,"type":"quantitative","axis":{"orient":"top","title":null,"values":[0,20,40,60,80,100]}},"y":{"datum":11,"type":"ordinal","axis":null},"text":{"field":"label"}}}
   ]},
   {"width":121,"height":120,"resolve":{"axis":{"x":"independent","y":"independent"}},"layer":[
    {"data":{"name":"freq"},"transform":[{"filter":"datum.time=='12:00'&&datum.depth=='5m'"}],"mark":{"type":"bar","stroke":"black","strokeWidth":1.5},"encoding":{"y":{"field":"len","type":"ordinal","scale":{"domain":[5,6,7,8,9,10,11,12],"paddingInner":0.25,"paddingOuter":0.125},"axis":{"title":null}},"x":{"field":"pct","type":"quantitative","stack":"zero","scale":{"domain":[0,100]},"axis":{"orient":"bottom","title":"Frequency (%)","titleFontSize":26,"titleX":157,"titlePadding":10,"values":[0,20,40,60,80,100],"labels":true,"labelPadding":4}},"fill":{"field":"type","type":"nominal","scale":{"domain":["Yolk","Absorbed"],"range":["#ffffff","#141414"]},"legend":null},"order":{"field":"type","sort":"descending"}}},
    {"data":{"name":"ns"},"transform":[{"filter":"datum.time=='12:00'&&datum.depth=='5m'"}],"mark":{"type":"text","fontSize":20,"dy":-1},"encoding":{"x":{"datum":47,"type":"quantitative","axis":{"orient":"top","title":null,"values":[0,20,40,60,80,100]}},"y":{"datum":11,"type":"ordinal","axis":null},"text":{"field":"label"}}}
   ]},
   {"width":121,"height":120,"resolve":{"axis":{"x":"independent","y":"independent"}},"layer":[
    {"data":{"name":"freq"},"transform":[{"filter":"datum.time=='16:00'&&datum.depth=='5m'"}],"mark":{"type":"bar","stroke":"black","strokeWidth":1.5},"encoding":{"y":{"field":"len","type":"ordinal","scale":{"domain":[5,6,7,8,9,10,11,12],"paddingInner":0.25,"paddingOuter":0.125},"axis":{"title":null}},"x":{"field":"pct","type":"quantitative","stack":"zero","scale":{"domain":[0,100]},"axis":{"orient":"bottom","title":null,"values":[0,20,40,60,80,100],"labels":true,"labelPadding":4}},"fill":{"field":"type","type":"nominal","scale":{"domain":["Yolk","Absorbed"],"range":["#ffffff","#141414"]},"legend":null},"order":{"field":"type","sort":"descending"}}},
    {"data":{"name":"ns"},"transform":[{"filter":"datum.time=='16:00'&&datum.depth=='5m'"}],"mark":{"type":"text","fontSize":20,"dy":0},"encoding":{"x":{"datum":45,"type":"quantitative","axis":{"orient":"top","title":null,"values":[0,20,40,60,80,100]}},"y":{"datum":11,"type":"ordinal","axis":null},"text":{"field":"label"}}}
   ]},
   {"width":121,"height":120,"resolve":{"axis":{"x":"independent","y":"independent"}},"layer":[
    {"data":{"name":"freq"},"transform":[{"filter":"datum.time=='19:00'&&datum.depth=='5m'"}],"mark":{"type":"bar","stroke":"black","strokeWidth":1.5},"encoding":{"y":{"field":"len","type":"ordinal","scale":{"domain":[5,6,7,8,9,10,11,12],"paddingInner":0.25,"paddingOuter":0.125},"axis":{"title":null}},"x":{"field":"pct","type":"quantitative","stack":"zero","scale":{"domain":[0,100]},"axis":{"orient":"bottom","title":null,"values":[0,20,40,60,80,100],"labels":true,"labelPadding":4}},"fill":{"field":"type","type":"nominal","scale":{"domain":["Yolk","Absorbed"],"range":["#ffffff","#141414"]},"legend":null},"order":{"field":"type","sort":"descending"}}},
    {"data":{"name":"ns"},"transform":[{"filter":"datum.time=='19:00'&&datum.depth=='5m'"}],"mark":{"type":"text","fontSize":20,"dy":10},"encoding":{"x":{"datum":44,"type":"quantitative","axis":{"orient":"top","title":null,"values":[0,20,40,60,80,100]}},"y":{"datum":11,"type":"ordinal","axis":null},"text":{"field":"label"}}}
   ]},
   {"width":121,"height":120,"resolve":{"axis":{"x":"independent","y":"independent"}},"layer":[
    {"data":{"name":"freq"},"transform":[{"filter":"datum.time=='21:00'&&datum.depth=='5m'"}],"mark":{"type":"bar","stroke":"black","strokeWidth":1.5},"encoding":{"y":{"field":"len","type":"ordinal","scale":{"domain":[5,6,7,8,9,10,11,12],"paddingInner":0.25,"paddingOuter":0.125},"axis":{"title":null}},"x":{"field":"pct","type":"quantitative","stack":"zero","scale":{"domain":[0,100]},"axis":{"orient":"bottom","title":null,"values":[0,20,40,60,80,100],"labels":true,"labelPadding":4}},"fill":{"field":"type","type":"nominal","scale":{"domain":["Yolk","Absorbed"],"range":["#ffffff","#141414"]},"legend":null},"order":{"field":"type","sort":"descending"}}},
    {"data":{"name":"ns"},"transform":[{"filter":"datum.time=='21:00'&&datum.depth=='5m'"}],"mark":{"type":"text","fontSize":20,"dy":0},"encoding":{"x":{"datum":52,"type":"quantitative","axis":{"orient":"top","title":null,"values":[0,20,40,60,80,100]}},"y":{"datum":11,"type":"ordinal","axis":null},"text":{"field":"label"}}},
    {"data":{"values":[{}]},"mark":{"type":"text","font":"Noto Sans CJK JP","fontSize":17,"align":"center","baseline":"middle","dy":-3.5},"encoding":{"x":{"datum":114.5,"type":"quantitative","axis":null},"y":{"datum":10,"type":"ordinal","axis":null},"text":{"value":"□"}}},
    {"data":{"values":[{}]},"mark":{"type":"text","fontSize":20,"align":"left","baseline":"middle","dy":-3.5},"encoding":{"x":{"datum":121.5,"type":"quantitative","axis":null},"y":{"datum":10,"type":"ordinal","axis":null},"text":{"value":"; Yolk larvae"}}},
    {"data":{"values":[{}]},"mark":{"type":"text","font":"Noto Sans CJK JP","fontSize":17,"align":"center","baseline":"middle","dy":8.5},"encoding":{"x":{"datum":114.5,"type":"quantitative","axis":null},"y":{"datum":11,"type":"ordinal","axis":null},"text":{"value":"■"}}},
    {"data":{"values":[{}]},"mark":{"type":"text","fontSize":20,"align":"left","baseline":"middle","dy":8.5},"encoding":{"x":{"datum":121.5,"type":"quantitative","axis":null},"y":{"datum":11,"type":"ordinal","axis":null},"text":{"value":"; Yolk absorbed larvae"}}}
   ]}
]}
],
"config":{
 "font":"Liberation Serif",
 "view":{"stroke":"black","strokeWidth":1.5},
 "axis":{"domain":false,"ticks":true,"tickColor":"black","tickWidth":1.5,"tickSize":9,"labels":false,"labelFont":"Liberation Serif","labelFontSize":16,"labelColor":"black","labelPadding":1,"labelFlush":false,"labelOverlap":false,"labelBound":false,"grid":false,"titleFont":"Liberation Serif","titleFontWeight":"normal","titleColor":"black"},
 "title":{"font":"Liberation Serif","fontWeight":"normal","color":"black"},
 "text":{"font":"Liberation Serif","color":"black"}
}
}
